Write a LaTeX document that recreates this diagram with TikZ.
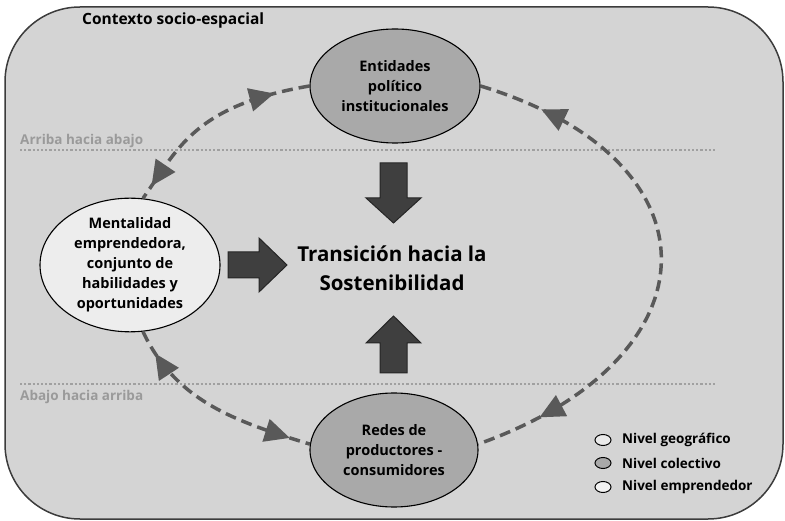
\documentclass[tikz,border=0pt]{standalone}
\usepackage{fontspec}
\setmainfont{Open Sans}
\usetikzlibrary{shapes.geometric,decorations.markings,arrows.meta}
\definecolor{bgc}{HTML}{D4D4D4}
\definecolor{frame}{HTML}{3C3C3C}
\definecolor{midg}{HTML}{A9A9A9}
\definecolor{lightg}{HTML}{EDEDED}
\definecolor{dashc}{HTML}{595959}
\definecolor{dotc}{HTML}{A0A0A0}
\definecolor{labc}{HTML}{9A9A9A}
\definecolor{blockc}{HTML}{3F3F3F}
\definecolor{geoc}{HTML}{EAEAEA}
\definecolor{empc}{HTML}{F3F3F3}
\tikzset{
  ell/.style={ellipse, draw=black, line width=1.1pt, inner sep=0pt, align=center,
    font=\bfseries\fontsize{14.5}{20}\selectfont},
  dcon/.style={draw=dashc, line width=3.5pt, dash pattern=on 11pt off 6pt},
  bidir/.style 2 args={postaction={decorate}, decoration={markings,
      mark=at position #1 with {\arrowreversed[fill=dashc,draw=dashc]{Triangle[length=25pt,width=23pt]}},
      mark=at position #2 with {\arrow[fill=dashc,draw=dashc]{Triangle[length=25pt,width=23pt]}}}},
  dotline/.style={draw=dotc, line width=2.2pt, dash pattern=on 2.2pt off 2pt},
  graylab/.style={anchor=west, inner sep=0pt, text=labc, font=\bfseries\fontsize{13.5}{16}\selectfont},
  block/.style={fill=blockc, draw=black!85, line width=1pt, line join=miter},
  legell/.style={ellipse, draw=black, line width=1pt, minimum width=16pt, minimum height=11pt, inner sep=0pt},
  legtext/.style={anchor=west, inner sep=0pt, font=\bfseries\fontsize{13.5}{16}\selectfont}
}
\begin{document}
\begin{tikzpicture}[x=1pt,y=1pt]
\useasboundingbox (0,0) rectangle (785,-521);
% context frame
\draw[fill=bgc, draw=frame, line width=1.5pt, rounded corners=75pt] (5,-7) rectangle (783,-519);
\node[anchor=west, inner sep=0pt, font=\bfseries\fontsize{15.5}{18}\selectfont] (ctx) at (82,-20) {Contexto socio-espacial};
% dotted separators
\coordinate (d1a) at (20,-150); \coordinate (d1b) at (717,-150);
\coordinate (d2a) at (20,-384); \coordinate (d2b) at (717,-384);
\draw[dotline] (d1a) -- (d1b);
\draw[dotline] (d2a) -- (d2b);
\node[graylab] (arr) at (20,-141) {Arriba hacia abajo};
\node[graylab] (aba) at (20,-397) {Abajo hacia arriba};
% nodes
\node[ell, fill=midg, minimum width=170pt, minimum height=114pt] (top) at (395,-86) {Entidades\\político\\institucionales};
\node[ell, fill=lightg, minimum width=180pt, minimum height=124pt] (left) at (130,-265) {Mentalidad\\emprendedora,\\conjunto de\\habilidades y\\oportunidades};
\node[ell, fill=midg, minimum width=168pt, minimum height=114pt] (bottom) at (394,-450) {Redes de\\productores -\\consumidores};
\node[align=center, inner sep=0pt, font=\bfseries\fontsize{20.5}{28.5}\selectfont] (goal) at (392,-268) {Transición hacia la\\Sostenibilidad};
% dashed connectors
\draw[dcon, bidir={36pt}{-15pt}] (top.west) .. controls (192,-106) and (177,-151) .. (left.79);
\draw[dcon, bidir={25pt}{-21pt}] (left.-79) .. controls (176,-401) and (234,-421) .. (bottom.176);
\draw[dcon, bidir={65pt}{-67pt}] (top.east) .. controls (724,-160) and (720,-358) .. (bottom.4);
% block arrows
\draw[block] (380,-163) -- (407,-163) -- (407,-198) -- (421,-198) -- (393.5,-223) -- (366,-198) -- (380,-198) -- cycle;
\draw[block] (380,-373) -- (407,-373) -- (407,-343) -- (421,-343) -- (393.5,-316) -- (366,-343) -- (380,-343) -- cycle;
\draw[block] (228,-252) -- (259,-252) -- (259,-238) -- (287,-265) -- (259,-292) -- (259,-278) -- (228,-278) -- cycle;
% legend
\node[legell, fill=geoc] (lg1) at (603,-440) {};
\node[legell, fill=midg] (lg2) at (603,-463) {};
\node[legell, fill=empc] (lg3) at (603,-487) {};
\node[legtext] (lt1) at (622,-440) {Nivel geográfico};
\node[legtext] (lt2) at (622,-463) {Nivel colectivo};
\node[legtext] (lt3) at (622,-487) {Nivel emprendedor};
\end{tikzpicture}
\end{document}
